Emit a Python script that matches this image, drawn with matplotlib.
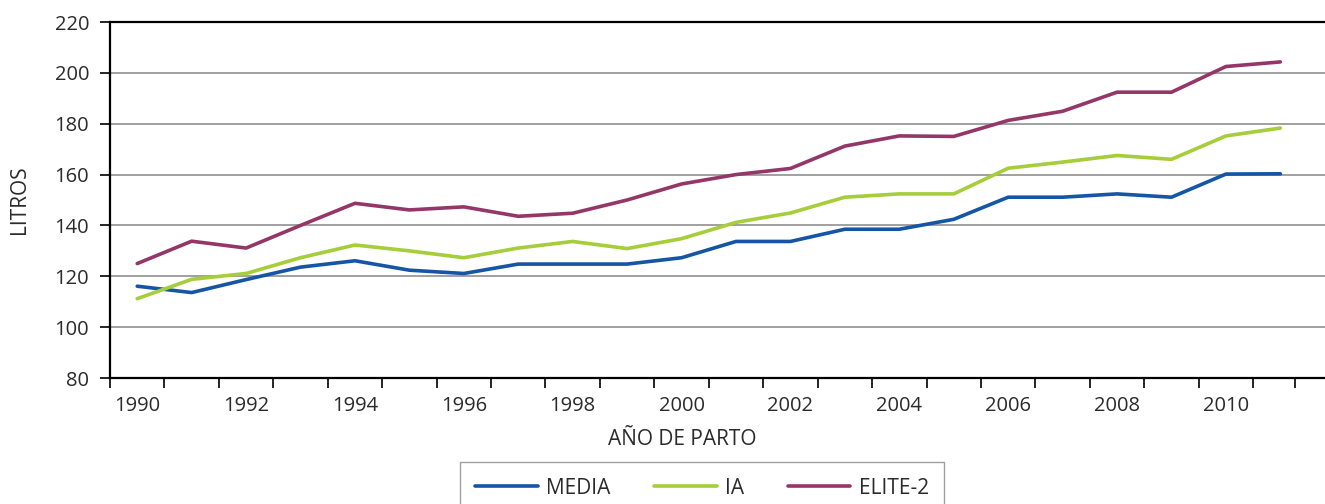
import numpy as np
import matplotlib
matplotlib.use('Agg')
import matplotlib.pyplot as plt

plt.rcParams['font.family'] = ['Open Sans', 'DejaVu Sans']

years = np.arange(1990, 2012)
media = [116.1, 113.6, 118.7, 123.6, 126.1, 122.4, 121.1, 124.8, 124.8, 124.8, 127.3,
         133.7, 133.7, 138.5, 138.5, 142.4, 151.1, 151.1, 152.4, 151.1, 160.2, 160.3]
ia = [111.2, 118.8, 121.1, 127.3, 132.3, 130.0, 127.3, 131.1, 133.7, 130.9, 134.8,
      141.2, 144.9, 151.1, 152.4, 152.4, 162.5, 164.9, 167.5, 166.0, 175.2, 178.3]
elite = [125.0, 133.8, 131.1, 140.0, 148.7, 146.1, 147.3, 143.6, 144.8, 150.0, 156.3,
         160.0, 162.4, 171.2, 175.2, 175.0, 181.3, 184.9, 192.4, 192.4, 202.5, 204.3]
labels = ['MEDIA', 'IA', 'ELITE-2']
colors = ['#1456a5', '#a6cd3a', '#943768']
text_color = '#2b2b2b'

W, H = 1325, 504
fig = plt.figure(figsize=(W / 100, H / 100), dpi=100)
ax = fig.add_axes([110 / W, 1 - 378 / H, 1215 / W, 356 / H])

for vals, lab, col in zip([media, ia, elite], labels, colors):
    ax.plot(years, vals, color=col, lw=2.6, label=lab, solid_capstyle='round', zorder=3)

ax.set_xlim(1989.5, 2011.82)
ax.set_ylim(80, 220)
ax.set_yticks(np.arange(80, 221, 20))
ax.grid(axis='y', color='#999999', lw=1.3, zorder=1)

ax.set_xticks(np.arange(1990, 2011, 2))
ax.set_xticks(list(np.arange(1989.5, 2011, 1)) + [2011.27], minor=True)
ax.tick_params(axis='x', which='major', length=0, pad=13, labelsize=14.5, labelcolor=text_color)
ax.tick_params(axis='x', which='minor', length=7, width=1.2, color='black', direction='out')
ax.tick_params(axis='y', length=7, width=1.2, pad=8, labelsize=14.5, labelcolor=text_color)

for side in ['left', 'top', 'bottom']:
    ax.spines[side].set_linewidth(1.6)
    ax.spines[side].set_color('black')
ax.spines['right'].set_visible(False)

ax.set_ylabel('LITROS', fontsize=15, color=text_color)
ax.yaxis.set_label_coords(-0.066, 0.5)
ax.set_xlabel('AÑO DE PARTO', fontsize=15, color=text_color)
ax.xaxis.set_label_coords(0.471, -0.142)

leg = ax.legend(loc='upper center', bbox_to_anchor=(702 / W, 1 - 462 / H),
                bbox_transform=fig.transFigure, ncol=3, fontsize=15, frameon=True,
                fancybox=False, handlelength=3.0, handletextpad=0.4, columnspacing=2.1,
                borderpad=0.75, borderaxespad=0, labelcolor=text_color)
leg.get_frame().set_edgecolor('#888888')
leg.get_frame().set_linewidth(1.0)

fig.savefig('out.png', dpi=100)
